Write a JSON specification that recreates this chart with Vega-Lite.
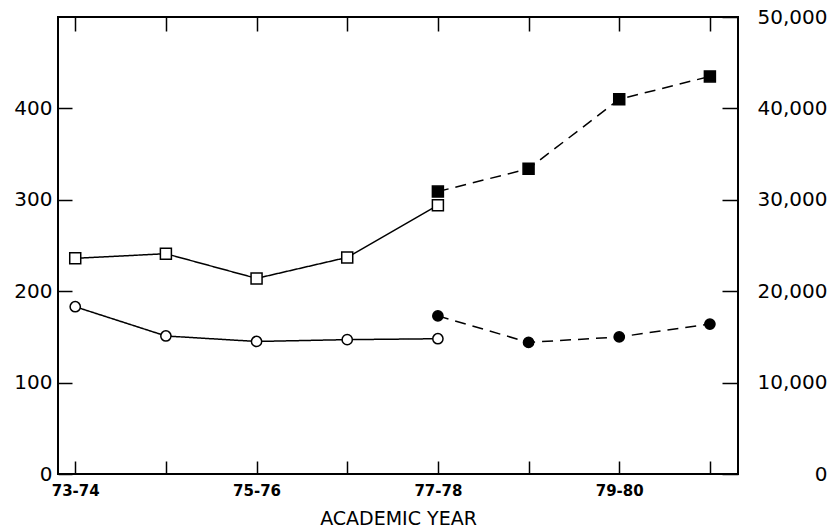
{
  "$schema": "https://vega.github.io/schema/vega-lite/v6.json",
  "width": 680,
  "height": 457,
  "padding": {"left": 13, "top": 7, "right": 0, "bottom": 0},
  "background": "white",
  "config": {
    "view": {"stroke": "black", "strokeWidth": 2},
    "axis": {"domain": false, "grid": false, "tickColor": "black", "tickWidth": 1.5, "labelColor": "black", "labelFont": "DejaVu Sans", "titleFont": "DejaVu Sans", "titleColor": "black"}
  },
  "datasets": {
    "squares": [
      {"i": 0, "year": "73-74", "value": 236, "series": "earlier"},
      {"i": 1, "year": "74-75", "value": 241, "series": "earlier"},
      {"i": 2, "year": "75-76", "value": 214, "series": "earlier"},
      {"i": 3, "year": "76-77", "value": 237, "series": "earlier"},
      {"i": 4, "year": "77-78", "value": 294, "series": "earlier"},
      {"i": 4, "year": "77-78", "value": 309, "series": "later"},
      {"i": 5, "year": "78-79", "value": 334, "series": "later"},
      {"i": 6, "year": "79-80", "value": 410, "series": "later"},
      {"i": 7, "year": "80-81", "value": 435, "series": "later"}
    ],
    "circles": [
      {"i": 0, "year": "73-74", "count": 18300, "series": "earlier"},
      {"i": 1, "year": "74-75", "count": 15100, "series": "earlier"},
      {"i": 2, "year": "75-76", "count": 14500, "series": "earlier"},
      {"i": 3, "year": "76-77", "count": 14700, "series": "earlier"},
      {"i": 4, "year": "77-78", "count": 14800, "series": "earlier"},
      {"i": 4, "year": "77-78", "count": 17300, "series": "later"},
      {"i": 5, "year": "78-79", "count": 14400, "series": "later"},
      {"i": 6, "year": "79-80", "count": 15000, "series": "later"},
      {"i": 7, "year": "80-81", "count": 16400, "series": "later"}
    ]
  },
  "resolve": {"scale": {"y": "independent"}, "axis": {"x": "independent"}},
  "layer": [
    {
      "data": {"name": "squares"},
      "mark": {"type": "line", "color": "black", "strokeWidth": 1.5},
      "encoding": {
        "x": {"field": "i", "type": "quantitative", "scale": {"domain": [-0.19, 7.31], "nice": false, "zero": false},
          "axis": {"orient": "bottom", "values": [0, 1, 2, 3, 4, 5, 6, 7], "tickSize": -13, "labelPadding": 22, "labelFontSize": 15, "labelFontWeight": "bold",
            "labelExpr": "datum.value==0?'73-74':datum.value==2?'75-76':datum.value==4?'77-78':datum.value==6?'79-80':''",
            "title": "ACADEMIC YEAR", "titleFontSize": 19, "titleFontWeight": "normal", "titlePadding": 11}},
        "y": {"field": "value", "type": "quantitative", "scale": {"domain": [0, 500], "nice": false},
          "axis": {"orient": "left", "values": [0, 100, 200, 300, 400], "format": "d", "tickSize": -14, "labelPadding": 20, "labelFontSize": 20, "title": null}},
        "strokeDash": {"field": "series", "type": "nominal", "scale": {"domain": ["earlier", "later"], "range": [[1, 0], [11, 7]]}, "legend": null}
      }
    },
    {
      "data": {"name": "squares"},
      "mark": {"type": "point", "shape": "square", "filled": true, "stroke": "black", "strokeWidth": 1.5, "size": 121, "opacity": 1},
      "encoding": {
        "x": {"field": "i", "type": "quantitative", "axis": null},
        "y": {"field": "value", "type": "quantitative", "scale": {"domain": [0, 500], "nice": false}, "axis": null},
        "fill": {"field": "series", "type": "nominal", "scale": {"domain": ["earlier", "later"], "range": ["white", "black"]}, "legend": null}
      }
    },
    {
      "data": {"name": "circles"},
      "mark": {"type": "line", "color": "black", "strokeWidth": 1.5},
      "encoding": {
        "x": {"field": "i", "type": "quantitative",
          "axis": {"orient": "top", "values": [0, 1, 2, 3, 4, 5, 6, 7], "tickSize": -14, "labels": false, "title": null}},
        "y": {"field": "count", "type": "quantitative", "scale": {"domain": [0, 50000], "nice": false},
          "axis": {"orient": "right", "values": [0, 10000, 20000, 30000, 40000, 50000], "format": ",d", "tickSize": -16, "labelAlign": "right", "labelPadding": 105, "labelFontSize": 20, "title": null}},
        "strokeDash": {"field": "series", "type": "nominal", "scale": {"domain": ["earlier", "later"], "range": [[1, 0], [11, 7]]}, "legend": null}
      }
    },
    {
      "data": {"name": "circles"},
      "mark": {"type": "point", "shape": "circle", "filled": true, "stroke": "black", "strokeWidth": 1.5, "size": 105, "opacity": 1},
      "encoding": {
        "x": {"field": "i", "type": "quantitative", "axis": null},
        "y": {"field": "count", "type": "quantitative", "scale": {"domain": [0, 50000], "nice": false}, "axis": null},
        "fill": {"field": "series", "type": "nominal", "scale": {"domain": ["earlier", "later"], "range": ["white", "black"]}, "legend": null}
      }
    }
  ]
}
